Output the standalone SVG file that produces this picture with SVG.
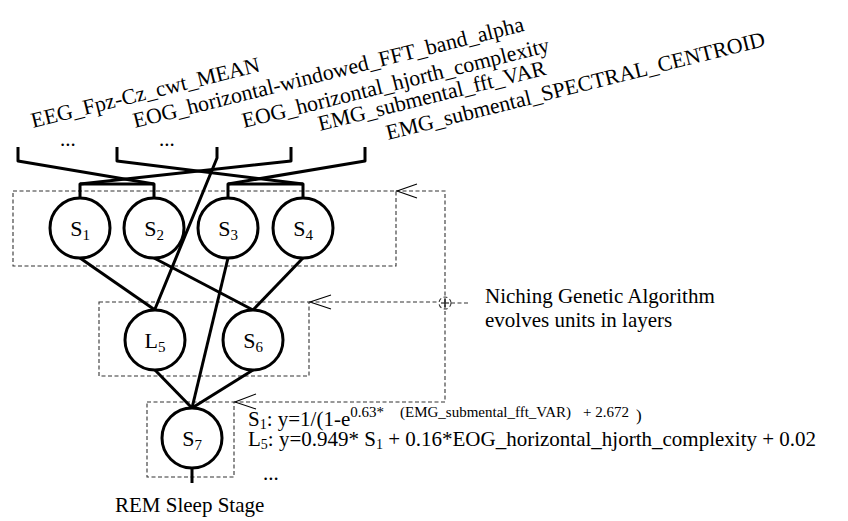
<svg xmlns="http://www.w3.org/2000/svg" width="848" height="521" viewBox="0 0 848 521">
<style>
text{font-family:"Liberation Serif","Times New Roman",serif;fill:#000}
.lbl{font-size:21px}
.in{font-size:21.8px}
.nl{font-size:22px}
.sub{font-size:15px}
.sup{font-size:15px}
.w{fill:none;stroke:#000;stroke-width:3;stroke-linejoin:round}
.node{fill:#fff;stroke:#000;stroke-width:3}
.dash{fill:none;stroke:#333;stroke-width:1.1;stroke-dasharray:4,2.5}
.ah{fill:none;stroke:#000;stroke-width:1.1}
</style>
<rect width="848" height="521" fill="#fff"/>
<g id="input-labels">
<text class="in" transform="translate(33,128) rotate(-14)">EEG_Fpz-Cz_cwt_MEAN</text>
<text class="in" transform="translate(135,128) rotate(-14)">EOG_horizontal-windowed_FFT_band_alpha</text>
<text class="in" transform="translate(244,128) rotate(-14)">EOG_horizontal_hjorth_complexity</text>
<text class="in" transform="translate(320,131) rotate(-14)">EMG_submental_fft_VAR</text>
<text class="in" transform="translate(388,140) rotate(-14)">EMG_submental_SPECTRAL_CENTROID</text>
<text class="lbl" x="60" y="146">...</text>
<text class="lbl" x="159" y="146">...</text>
</g>
<g id="boxes">
<rect class="dash" x="13" y="191" width="383" height="75"/>
<rect class="dash" x="99" y="302" width="210" height="74"/>
<rect class="dash" x="147" y="402" width="87" height="75"/>
</g>
<g id="connectors">
<path class="w" d="M18,147 V161 L154,184"/>
<path class="w" d="M117,147 V161 L303,184"/>
<path class="w" d="M291,147 V161 L80,184"/>
<path class="w" d="M365,147 V161 L228,184"/>
<path class="w" d="M217,147 V158 L155,309"/>
<path class="w" d="M80,198 V184 H154 V198"/>
<path class="w" d="M228,198 V184 H303 V198"/>
<path class="w" d="M80,258 L155,310"/>
<path class="w" d="M154,258 L253,310"/>
<path class="w" d="M303,258 L253,310"/>
<path class="w" d="M228,258 L192,408"/>
<path class="w" d="M155,370 L192,408"/>
<path class="w" d="M253,370 L192,408"/>
<path class="w" d="M192,468 V483"/>
</g>
<g id="feedback">
<path class="dash" d="M396,191 H445 V402 H234"/>
<path class="dash" d="M309,302 H439 M451,303 H470"/>
<circle class="dash" cx="445" cy="303" r="6"/>
<path class="ah" d="M441,303 H449 M445,299 V307"/>
<path class="ah" d="M417,184 L397,191 L417,198"/>
<path class="ah" d="M331,295 L310,302 L331,309"/>
<path class="ah" d="M256,394 L235,402 L256,409"/>
</g>
<g id="S1"><circle class="node" cx="80" cy="228" r="30"/><text class="nl" x="80" y="236" text-anchor="middle">S<tspan class="sub" dy="4">1</tspan></text></g>
<g id="S2"><circle class="node" cx="154" cy="228" r="30"/><text class="nl" x="154" y="236" text-anchor="middle">S<tspan class="sub" dy="4">2</tspan></text></g>
<g id="S3"><circle class="node" cx="228" cy="228" r="30"/><text class="nl" x="228" y="236" text-anchor="middle">S<tspan class="sub" dy="4">3</tspan></text></g>
<g id="S4"><circle class="node" cx="303" cy="228" r="30"/><text class="nl" x="303" y="236" text-anchor="middle">S<tspan class="sub" dy="4">4</tspan></text></g>
<g id="L5"><circle class="node" cx="155" cy="340" r="30"/><text class="nl" x="155" y="348" text-anchor="middle">L<tspan class="sub" dy="4">5</tspan></text></g>
<g id="S6"><circle class="node" cx="253" cy="340" r="30"/><text class="nl" x="253" y="348" text-anchor="middle">S<tspan class="sub" dy="4">6</tspan></text></g>
<g id="S7"><circle class="node" cx="192" cy="438" r="30"/><text class="nl" x="192" y="446" text-anchor="middle">S<tspan class="sub" dy="4">7</tspan></text></g>
<g id="texts">
<text class="lbl" x="485" y="303">Niching Genetic Algorithm</text>
<text class="lbl" x="485" y="327">evolves units in layers</text>
<text class="lbl" x="115" y="512">REM Sleep Stage</text>
<text class="lbl" x="248" y="426">S<tspan font-size="14" dy="3">1</tspan><tspan dy="-3">: y=1/(1-e</tspan><tspan class="sup" dy="-9">0.63*</tspan><tspan class="sup" x="400">(EMG_submental_fft_VAR)</tspan><tspan class="sup" x="583">+ 2.672</tspan><tspan font-size="17" x="636" dy="4">)</tspan></text>
<text class="lbl" x="248" y="446">L<tspan font-size="14" dy="3">5</tspan><tspan dy="-3">: y=0.949* S</tspan><tspan font-size="14" dy="3">1</tspan><tspan dy="-3"> + 0.16*EOG_horizontal_hjorth_complexity + 0.02</tspan></text>
<text class="lbl" x="263" y="480">...</text>
</g>
</svg>
